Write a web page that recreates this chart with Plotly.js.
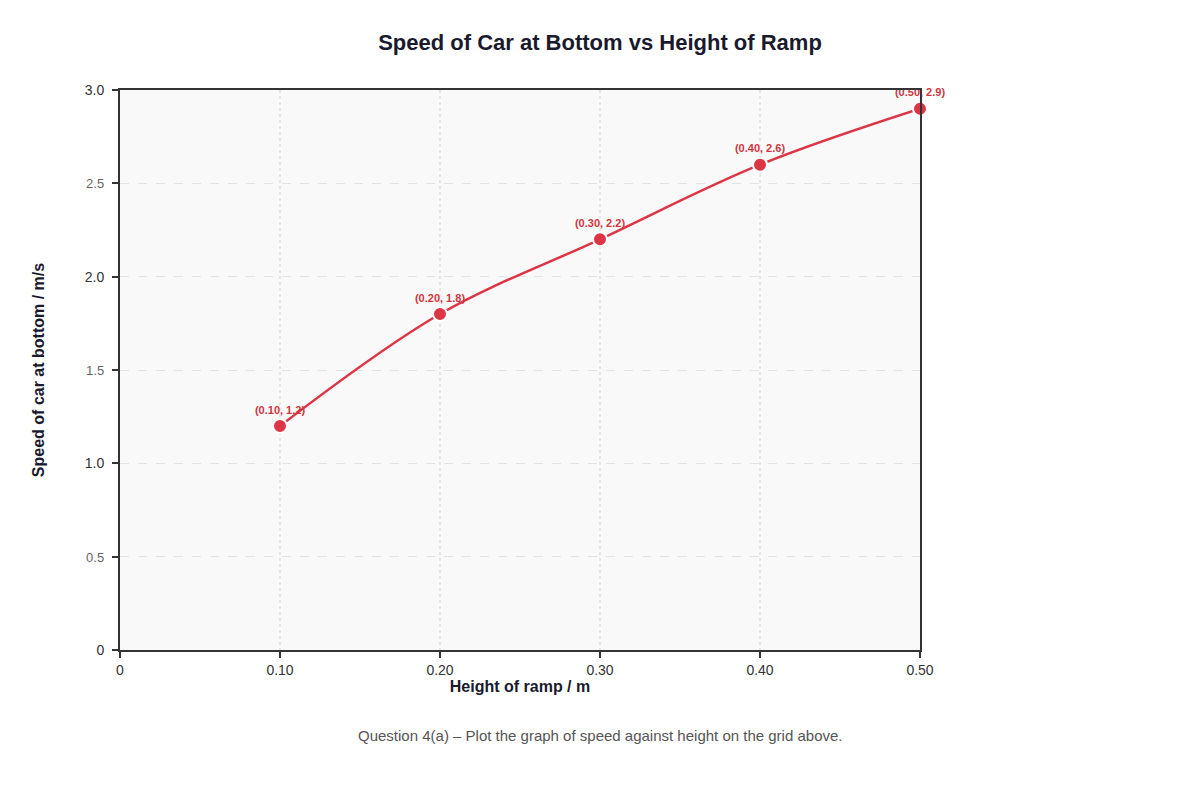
<!DOCTYPE html>
<html>
<head>
<meta charset="utf-8">
<script src="https://cdn.plot.ly/plotly-3.0.1.min.js"></script>
<style>
  html, body { margin: 0; padding: 0; background: #fff; }
  #chart { width: 1200px; height: 800px; }
</style>
</head>
<body>
<div id="chart"></div>
<script>
// data
const heights = [0.10, 0.20, 0.30, 0.40, 0.50];
const speeds  = [1.2, 1.8, 2.2, 2.6, 2.9];
const pointLabels = ['(0.10, 1.2)', '(0.20, 1.8)', '(0.30, 2.2)', '(0.40, 2.6)', '(0.50, 2.9)'];

const xTickVals = [0, 0.10, 0.20, 0.30, 0.40, 0.50];
const xTickText = ['0', '0.10', '0.20', '0.30', '0.40', '0.50'];
const yTickVals = [0, 0.5, 1.0, 1.5, 2.0, 2.5, 3.0];
const yTickText = ['0', '0.5', '1.0', '1.5', '2.0', '2.5', '3.0'];

const RED = '#dc3545';
const FONT = "'Liberation Sans', Arial, sans-serif";

// half-step labels are drawn smaller and lighter
const yTickStyled = yTickText.map((t, i) =>
  i % 2 === 1 ? `<span style="font-size:13px;fill:#666">${t}</span>` : t
);

const traces = [{
  type: 'scatter', mode: 'lines+markers+text',
  x: heights, y: speeds,
  text: pointLabels,
  textposition: 'top center',
  textfont: { size: 11, color: '#d0353f', family: FONT, weight: 'bold' },
  line: { color: RED, width: 2.5, shape: 'spline', smoothing: 1 },
  marker: { color: RED, size: 14, line: { color: '#fff', width: 2 } },
  cliponaxis: false,
  hoverinfo: 'skip',
  showlegend: false,
}];

const layout = {
  width: 1200, height: 800,
  paper_bgcolor: '#fff',
  plot_bgcolor: '#f9f9f9',
  margin: { l: 120, r: 280, t: 90, b: 150 },
  font: { family: FONT, color: '#333', size: 14 },
  title: {
    text: '<b>Speed of Car at Bottom vs Height of Ramp</b>',
    x: 0.5, xref: 'container', y: 0.947, yanchor: 'middle',
    font: { size: 22, color: '#1a1a2e', family: FONT },
  },
  xaxis: {
    range: [0, 0.5],
    tickvals: xTickVals, ticktext: xTickText,
    ticks: 'outside', ticklen: 6, tickwidth: 2, tickcolor: '#333',
    tickfont: { size: 14, color: '#333' },
    showline: true, linecolor: '#333', linewidth: 2, mirror: true,
    showgrid: true, gridcolor: '#e6e6e6', griddash: 'dot', gridwidth: 1.5,
    zeroline: false,
    title: { text: '<b>Height of ramp / m</b>', standoff: 2, font: { size: 16, color: '#1a1a2e' } },
  },
  yaxis: {
    range: [0, 3.0],
    tickvals: yTickVals, ticktext: yTickStyled,
    ticks: 'outside', ticklen: 6, tickwidth: 2, tickcolor: '#333',
    ticklabelstandoff: 5,
    tickfont: { size: 14, color: '#333' },
    showline: true, linecolor: '#333', linewidth: 2, mirror: true,
    showgrid: true, gridcolor: '#e3e3e3', griddash: 'dash', gridwidth: 1,
    zeroline: false,
    title: { text: '<b>Speed of car at bottom / m/s</b>', standoff: 36, font: { size: 16, color: '#1a1a2e' } },
  },
  annotations: [{
    text: 'Question 4(a) – Plot the graph of speed against height on the grid above.',
    xref: 'paper', yref: 'paper', x: 0.6, y: -0.152, xanchor: 'center', yanchor: 'middle',
    showarrow: false,
    font: { size: 15, color: '#555', family: FONT },
  }],
};

Plotly.newPlot('chart', traces, layout, { displayModeBar: false, staticPlot: true });
</script>
</body>
</html>
